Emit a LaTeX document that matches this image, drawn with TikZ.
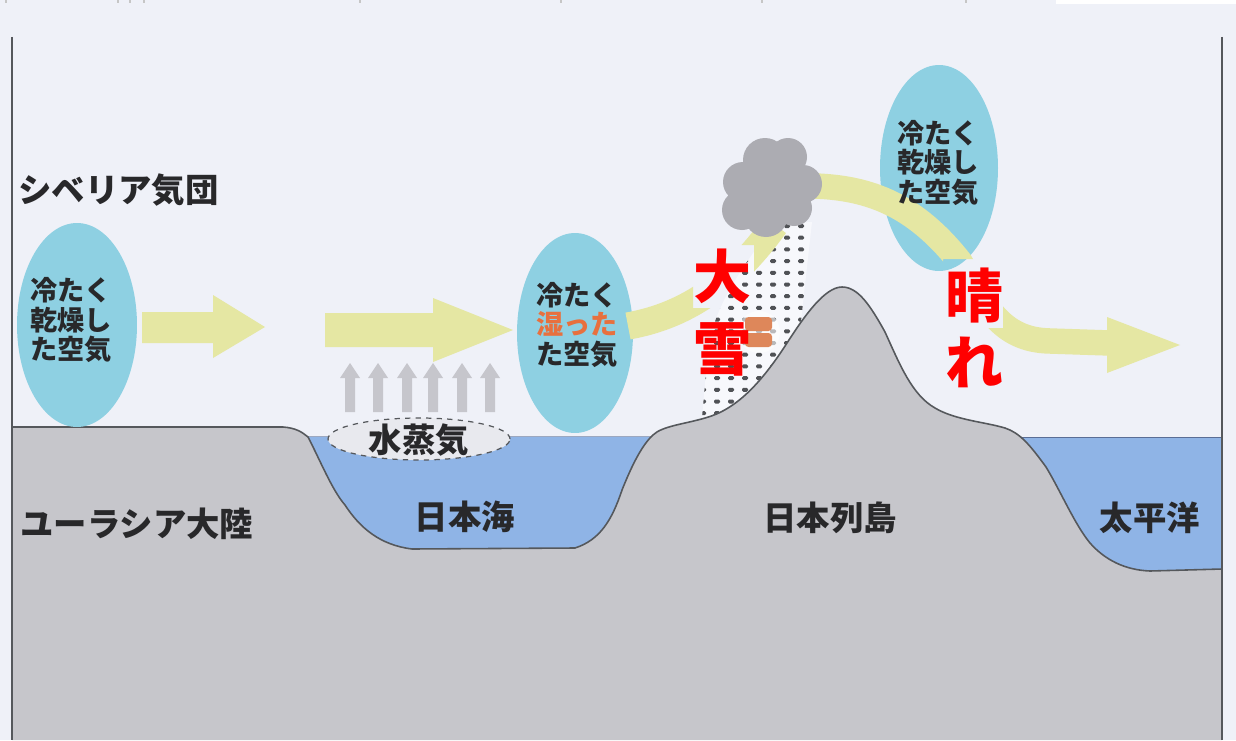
\documentclass[tikz,border=0pt]{standalone}
\usepackage{fontspec}
\newfontfamily\jp{Noto Sans CJK JP}
\usetikzlibrary{shapes.geometric}
\definecolor{bg}{RGB}{239,241,248}
\definecolor{landgray}{RGB}{198,198,203}
\definecolor{edge}{RGB}{85,88,92}
\definecolor{seablue}{RGB}{143,180,230}
\definecolor{seaedge}{RGB}{90,110,150}
\definecolor{airblue}{RGB}{142,208,226}
\definecolor{flow}{RGB}{229,231,163}
\definecolor{steam}{RGB}{198,198,204}
\definecolor{steamfill}{RGB}{232,233,238}
\definecolor{cloudgray}{RGB}{172,172,178}
\definecolor{snowwhite}{RGB}{247,248,252}
\definecolor{dotgray}{RGB}{80,82,86}
\definecolor{ink}{RGB}{40,40,42}
\definecolor{wetorange}{RGB}{232,112,62}
\definecolor{brick}{RGB}{222,135,90}
\definecolor{alert}{RGB}{255,0,0}
\tikzset{
  airmass/.style={ellipse, fill=airblue, inner sep=0pt},
  airtext/.style={font=\jp\bfseries\fontsize{15.5}{17}\selectfont, text=ink, align=left, inner sep=0pt},
  darklabel/.style={font=\jp\bfseries\fontsize{19}{22}\selectfont, text=ink, inner sep=0pt},
  redlabel/.style={font=\jp\bfseries\fontsize{33}{40}\selectfont, text=alert, align=center, inner sep=0pt},
  flowline/.style={draw=flow, line width=15.5pt},
  outline/.style={draw=edge, line width=0.9pt},
}
\begin{document}
\begin{tikzpicture}[x=0.02cm, y=-0.02cm]
\useasboundingbox (0,0) rectangle (1236,740);
\fill[bg] (0,0) rectangle (1236,740);
% scan remnants along the top edge
\fill[white] (1056,0) rectangle (1236,4);
\foreach \tx in {6,118,130,144,360,561,762,966}
  \draw[gray!45, line width=0.8pt] (\tx,0) -- (\tx,3.5);

% seas
\fill[seablue] (290,436) rectangle (665,560);
\fill[seablue] (1000,437) rectangle (1222,580);
\draw[seaedge!60, line width=0.5pt] (305,436) -- (655,436);
\draw[seaedge, line width=0.7pt] (1022,437.5) -- (1222,437.5);

% snowfall band on the windward slope
\begin{scope}
  \clip (773,224) .. controls (748,262) and (715,300) .. (708,350) -- (700,440) -- (800,440) -- (800,330) -- (812,222) -- cycle;
  \fill[snowwhite] (690,200) rectangle (830,450);
  \foreach \i in {0,...,8}
    \foreach \j in {0,...,18}
      \fill[dotgray, rounded corners=0.8pt] (703+14*\i-3, 226+11.7*\j-2) rectangle ++(6,4);
\end{scope}

% land: continent, sea floors and the island arc
\fill[landgray] (12,740) -- (12,427) -- (283,427)
  .. controls (296,428) and (302,432) .. (308,437)
  .. controls (320,460) and (332,490) .. (345,505)
  .. controls (360,528) and (380,545) .. (412,549) -- (575,548)
  .. controls (600,540) and (612,520) .. (622,490)
  .. controls (632,465) and (642,445) .. (653,435)
  .. controls (662,426) and (685,424) .. (705,418)
  .. controls (735,410) and (760,385) .. (787,343)
  .. controls (805,315) and (825,287) .. (842,287)
  .. controls (858,287) and (870,305) .. (885,332)
  .. controls (900,365) and (912,395) .. (935,408)
  .. controls (955,420) and (985,422) .. (1005,428)
  .. controls (1020,433) and (1030,445) .. (1046,467)
  .. controls (1060,490) and (1075,525) .. (1090,543)
  .. controls (1105,560) and (1125,570) .. (1150,571) -- (1222,569) -- (1222,740) -- cycle;
\draw[outline] (12,427) -- (283,427)
  .. controls (296,428) and (302,432) .. (308,437)
  .. controls (320,460) and (332,490) .. (345,505)
  .. controls (360,528) and (380,545) .. (412,549) -- (575,548)
  .. controls (600,540) and (612,520) .. (622,490)
  .. controls (632,465) and (642,445) .. (653,435)
  .. controls (662,426) and (685,424) .. (705,418)
  .. controls (735,410) and (760,385) .. (787,343)
  .. controls (805,315) and (825,287) .. (842,287)
  .. controls (858,287) and (870,305) .. (885,332)
  .. controls (900,365) and (912,395) .. (935,408)
  .. controls (955,420) and (985,422) .. (1005,428)
  .. controls (1020,433) and (1030,445) .. (1046,467)
  .. controls (1060,490) and (1075,525) .. (1090,543)
  .. controls (1105,560) and (1125,570) .. (1150,571) -- (1222,569);

% frame sides
\draw[edge, line width=1pt] (12,37) -- (12,740);
\draw[edge, line width=1pt] (1222,37) -- (1222,740);

% rising water vapour
\foreach \ux in {350,378,407,433,462,490}
  \fill[steam] (\ux-5,412) -- (\ux-5,378) -- (\ux-10,378) -- (\ux,363) -- (\ux+10,378) -- (\ux+5,378) -- (\ux+5,412) -- cycle;
\node[ellipse, fill=steamfill, draw=edge, dashed, line width=0.7pt, minimum width=3.64cm, minimum height=0.84cm, inner sep=0pt] (vapour) at (419,439) {};

% air masses
\node[airmass, minimum width=2.4cm, minimum height=4.08cm] (air1) at (77,325) {};
\node[airmass, minimum width=2.32cm, minimum height=4cm] (air2) at (575,333) {};
\node[airmass, minimum width=2.36cm, minimum height=4.12cm] (air3) at (939,168) {};

% straight flow arrows
\fill[flow] (142,312) -- (213,312) -- (213,295) -- (265,327) -- (213,358) -- (213,343) -- (142,343) -- cycle;
\fill[flow] (325,313) -- (433,313) -- (433,298) -- (513,330) -- (433,362) -- (433,347) -- (325,347) -- cycle;

% curved flow over the mountains, interrupted behind the weather words
\begin{scope}[even odd rule]
  \clip (0,0) rectangle (1236,740) (693,245) rectangle (754,308) (943,259) rectangle (1003,328);
  \draw[flowline] (628,326) .. controls (690,315) and (735,280) .. (775,225);
  \draw[flowline, line width=14.5pt] (815,186) .. controls (870,188) and (915,205) .. (960,262)
     .. controls (985,305) and (1000,340) .. (1050,341) -- (1110,343);
\end{scope}
\fill[flow] (1107,317) -- (1180,345) -- (1107,373) -- cycle;

% snow cloud
\fill[cloudgray] (765,160) circle [radius=22] (788,157) circle [radius=19]
  (743,182) circle [radius=20] (803,184) circle [radius=19]
  (742,210) circle [radius=20] (766,215) circle [radius=22]
  (794,208) circle [radius=18] (775,187) circle [radius=27];

% small brick mark inside the snow band
\fill[white, opacity=0.6] (759,332) circle [radius=21];
\fill[brick, rounded corners=2pt] (745,317) rectangle (772,331);
\fill[brick, rounded corners=2pt] (745,333) rectangle (772,347);

% texts
\node[darklabel, anchor=west] (siberia) at (18,190) {シベリア気団};
\node[airtext, anchor=west] (air1text) at (30,320) {冷たく\\乾燥し\\た空気};
\node[airtext, anchor=west] (air2text) at (536,325) {冷たく\\\textcolor{wetorange}{湿った}\\た空気};
\node[airtext, anchor=west] (air3text) at (897,163) {冷たく\\乾燥し\\た空気};
\node[darklabel] (vapourtext) at (419,440) {水蒸気};
\node[darklabel, anchor=west] (eurasia) at (20,524) {ユーラシア大陸};
\node[darklabel] (japansea) at (465,517) {日本海};
\node[darklabel] (islands) at (830,518) {日本列島};
\node[darklabel] (pacific) at (1150,518) {太平洋};
\node[redlabel, font=\jp\bfseries\fontsize{33}{41}\selectfont] (heavysnow) at (722,313) {大\\雪};
\node[redlabel, font=\jp\bfseries\fontsize{33}{38}\selectfont] (clear) at (974,328) {晴\\れ};
\end{tikzpicture}
\end{document}
